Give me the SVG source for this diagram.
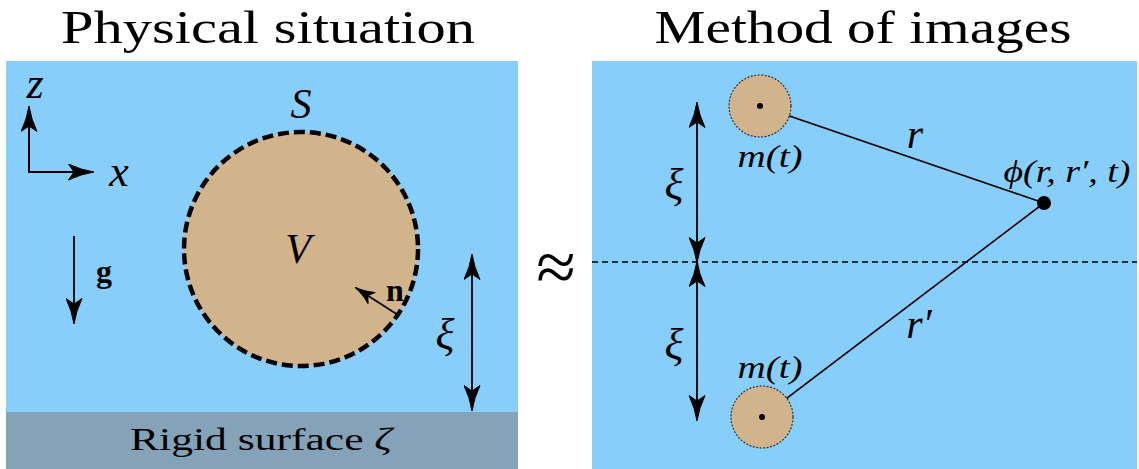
<svg xmlns="http://www.w3.org/2000/svg" width="1139" height="469" viewBox="0 0 1139 469">
<style>
.t{font-family:"Liberation Serif","DejaVu Serif",serif;fill:#000}
.m{font-family:"Liberation Serif","DejaVu Serif",serif;font-style:italic;fill:#000}
.b{font-family:"Liberation Serif","DejaVu Serif",serif;font-weight:bold;fill:#000}
.ar{stroke:#000;fill:none}
</style>
<defs>
<marker id="ah2" viewBox="0 0 26 17" refX="25" refY="8.5" markerWidth="26" markerHeight="17" markerUnits="userSpaceOnUse" orient="auto-start-reverse">
<path d="M0.5,0.5 Q13,6.5 26,8.5 Q13,10.5 0.5,16.5 L6,8.5 Z" fill="#000" stroke="#000" stroke-width="1" stroke-linejoin="round"/>
</marker>
<marker id="ahs" viewBox="0 0 20 14" refX="19" refY="7" markerWidth="20" markerHeight="14" markerUnits="userSpaceOnUse" orient="auto-start-reverse">
<path d="M0.5,0.5 Q10,5.5 20,7 Q10,8.5 0.5,13.5 L5,7 Z" fill="#000" stroke="#000" stroke-width="1" stroke-linejoin="round"/>
</marker>
</defs>
<rect width="1139" height="469" fill="#fff"/>
<g id="left-panel">
<rect x="6" y="61" width="512" height="351" fill="#87CEFA"/>
<rect x="6" y="412" width="512" height="57" fill="#84A3B8"/>
<text class="t" x="261" y="450" font-size="32" text-anchor="middle" textLength="262" lengthAdjust="spacingAndGlyphs">Rigid surface <tspan class="m">ζ</tspan></text>
</g>
<text id="title-left" class="t" x="268" y="43" font-size="46" text-anchor="middle" textLength="414" lengthAdjust="spacingAndGlyphs">Physical situation</text>
<text id="title-right" class="t" x="863" y="43" font-size="46" text-anchor="middle" textLength="417" lengthAdjust="spacingAndGlyphs">Method of images</text>
<g id="body">
<circle cx="301" cy="249" r="117" fill="#D2B48C" stroke="#000" stroke-width="4.5" stroke-dasharray="11,5"/>
<text class="m" x="301" y="118" font-size="42" text-anchor="middle">S</text>
<text class="m" x="298" y="263" font-size="42" text-anchor="middle">V</text>
</g>
<g id="axes">
<line class="ar" x1="29" y1="173" x2="29" y2="107" stroke-width="2" marker-end="url(#ah2)"/>
<line class="ar" x1="28" y1="172" x2="93" y2="172" stroke-width="2" marker-end="url(#ah2)"/>
<text class="m" x="35" y="98" font-size="44" text-anchor="middle">z</text>
<text class="m" x="119" y="186" font-size="44" text-anchor="middle">x</text>
</g>
<g id="gravity">
<line class="ar" x1="74" y1="236" x2="74" y2="323" stroke-width="1.8" marker-end="url(#ah2)"/>
<text class="b" x="104" y="282" font-size="32" text-anchor="middle">g</text>
</g>
<g id="normal">
<line class="ar" x1="398" y1="315" x2="356" y2="288" stroke-width="1.8" marker-end="url(#ahs)"/>
<text class="b" x="395" y="301" font-size="32" text-anchor="middle">n</text>
</g>
<g id="xi-left">
<line class="ar" x1="472" y1="255" x2="472" y2="410" stroke-width="1.8" marker-start="url(#ah2)" marker-end="url(#ah2)"/>
<text class="m" x="445" y="349" font-size="44" text-anchor="middle">ξ</text>
</g>
<text id="approx" class="t" x="556" y="291" font-size="72" text-anchor="middle">≈</text>
<g id="right-panel">
<rect x="592" y="61" width="545" height="408" fill="#87CEFA"/>
<line x1="592" y1="262" x2="1137" y2="262" stroke="#000" stroke-width="1.5" stroke-dasharray="6,4"/>
</g>
<g id="connectors">
<line x1="760" y1="106" x2="1044" y2="203" stroke="#000" stroke-width="1.6"/>
<line x1="762" y1="417" x2="1044" y2="203" stroke="#000" stroke-width="1.6"/>
</g>
<g id="source-top">
<circle cx="760" cy="106" r="31" fill="#D2B48C" stroke="#333" stroke-width="1.2" stroke-dasharray="2,1.5"/>
<circle cx="760" cy="106" r="3" fill="#000"/>
<text class="m" x="770" y="167" font-size="31" text-anchor="middle" textLength="65" lengthAdjust="spacingAndGlyphs">m<tspan class="t">(</tspan>t<tspan class="t">)</tspan></text>
</g>
<g id="source-bottom">
<circle cx="762" cy="417" r="31" fill="#D2B48C" stroke="#333" stroke-width="1.2" stroke-dasharray="2,1.5"/>
<circle cx="762" cy="417" r="3" fill="#000"/>
<text class="m" x="770" y="378" font-size="31" text-anchor="middle" textLength="65" lengthAdjust="spacingAndGlyphs">m<tspan class="t">(</tspan>t<tspan class="t">)</tspan></text>
</g>
<g id="field-point">
<circle cx="1044" cy="203" r="7" fill="#000"/>
<text class="m" x="1067" y="182" font-size="31" text-anchor="middle" textLength="127" lengthAdjust="spacingAndGlyphs">ϕ<tspan class="t">(</tspan>r<tspan class="t">, </tspan>r′<tspan class="t">, </tspan>t<tspan class="t">)</tspan></text>
</g>
<g id="labels-r">
<text class="m" x="915" y="148" font-size="42" text-anchor="middle">r</text>
<text class="m" x="919" y="338" font-size="42" text-anchor="middle">r′</text>
</g>
<g id="xi-right">
<line class="ar" x1="697" y1="103" x2="697" y2="262" stroke-width="1.8" marker-start="url(#ah2)" marker-end="url(#ah2)"/>
<line class="ar" x1="697" y1="262" x2="697" y2="420" stroke-width="1.8" marker-start="url(#ah2)" marker-end="url(#ah2)"/>
<text class="m" x="674" y="199" font-size="44" text-anchor="middle">ξ</text>
<text class="m" x="674" y="359" font-size="44" text-anchor="middle">ξ</text>
</g>
</svg>
